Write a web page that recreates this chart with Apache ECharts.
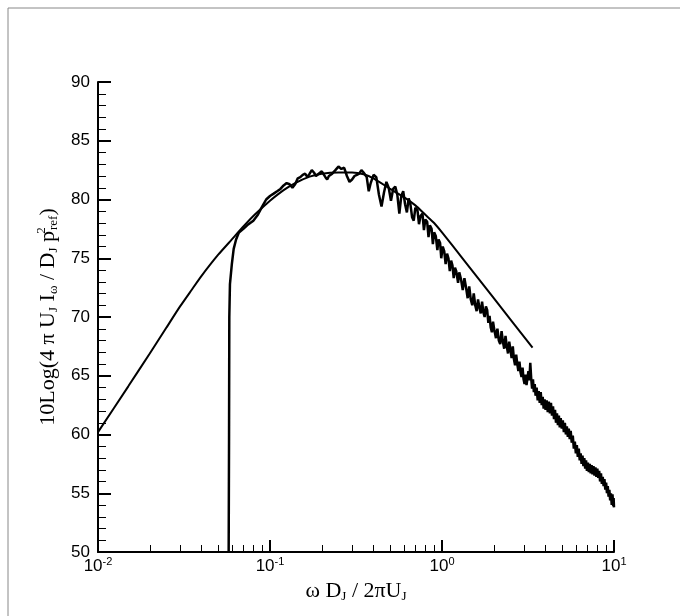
<!DOCTYPE html>
<html>
<head>
<meta charset="utf-8">
<script src="https://cdn.jsdelivr.net/npm/echarts@6/dist/echarts.min.js"></script>
<style>
html, body { margin: 0; padding: 0; background: #fff; }
#chart { width: 687px; height: 616px; }
</style>
</head>
<body>
<div id="chart"></div>
<script>
// model spectrum (smooth curve), [omega D / 2 pi U, dB]
var modelCurve = [
  [0.01, 60.2], [0.015, 64.1], [0.02, 66.9], [0.025, 69.1], [0.03, 70.9],
  [0.035, 72.3], [0.04, 73.5], [0.05, 75.3], [0.06, 76.6], [0.07, 77.7],
  [0.08, 78.6], [0.09, 79.3], [0.1, 79.9], [0.12, 80.8], [0.14, 81.4],
  [0.17, 81.95], [0.2, 82.2], [0.25, 82.3], [0.3, 82.3], [0.35, 82.15],
  [0.4, 81.8], [0.5, 80.9], [0.6, 80.2], [0.7, 79.5], [0.8, 78.7],
  [0.9, 78.0], [1.0, 77.2], [1.34, 74.85], [2.0, 71.6], [3.36, 67.4]
];

// measured spectrum (noisy curve)
var measured = [
  [0.0575, 50], [0.0578, 60], [0.058, 70], [0.0585, 72.8], [0.06, 74.5],
  [0.0615, 75.8], [0.0635, 76.6], [0.066, 77.2], [0.07, 77.5], [0.075, 77.9],
  [0.08, 78.2], [0.085, 78.7], [0.09, 79.4], [0.095, 80.0], [0.1, 80.3],
  [0.105, 80.5], [0.11, 80.7], [0.115, 80.9], [0.12, 81.2], [0.125, 81.4],
  [0.13, 81.3], [0.135, 81.0], [0.14, 81.3], [0.145, 81.8], [0.15, 81.9],
  [0.155, 82.1], [0.16, 82.2], [0.165, 81.9], [0.17, 82.2], [0.175, 82.5],
  [0.18, 82.3], [0.185, 82.0], [0.19, 82.1], [0.2, 82.4], [0.205, 82.3],
  [0.21, 81.9], [0.215, 81.7], [0.22, 82.0], [0.23, 82.2], [0.24, 82.5],
  [0.25, 82.8], [0.26, 82.6], [0.27, 82.7], [0.28, 82.0], [0.29, 81.5],
  [0.3, 81.7], [0.31, 82.0], [0.32, 82.1], [0.33, 82.2], [0.34, 82.5],
  [0.35, 82.3], [0.365, 81.9], [0.375, 80.7], [0.385, 81.4], [0.4, 82.1],
  [0.415, 81.9], [0.43, 80.4], [0.445, 79.4], [0.46, 80.6], [0.475, 81.5],
  [0.49, 81.0], [0.505, 79.9], [0.52, 80.9], [0.535, 81.1], [0.55, 80.4],
  [0.565, 78.8], [0.58, 80.3], [0.595, 80.7], [0.61, 79.6], [0.625, 78.9],
  [0.64, 80.1], [0.655, 79.6], [0.67, 78.5], [0.685, 78.2], [0.7, 79.3],
  [0.72, 79.1], [0.735, 77.9], [0.75, 78.6], [0.77, 78.8], [0.785, 77.4],
  [0.8, 78.3], [0.82, 78.1], [0.835, 76.8], [0.85, 77.8], [0.87, 77.5],
  [0.885, 76.2], [0.9, 77.2], [0.92, 76.9], [0.94, 75.7], [0.955, 76.6],
  [0.975, 76.3], [0.99, 75.0], [1.01, 76.0], [1.03, 75.6], [1.05, 74.5],
  [1.07, 75.4], [1.09, 75.0], [1.11, 73.9], [1.13, 74.8], [1.15, 74.4],
  [1.17, 73.3], [1.19, 74.2], [1.21, 73.9], [1.24, 72.9], [1.26, 73.8],
  [1.29, 73.2], [1.32, 72.3], [1.35, 73.3], [1.38, 72.5], [1.41, 71.6],
  [1.44, 72.6], [1.47, 71.5], [1.5, 71.0], [1.53, 72.0], [1.56, 71.0],
  [1.59, 70.5], [1.62, 71.5], [1.65, 70.8], [1.68, 70.3], [1.71, 71.3],
  [1.74, 70.4], [1.77, 70.0], [1.8, 70.9], [1.83, 70.6], [1.86, 69.5],
  [1.89, 70.1], [1.92, 69.1], [1.95, 68.7], [1.98, 69.6], [2.02, 68.8],
  [2.06, 68.2], [2.1, 69.0], [2.14, 68.0], [2.18, 67.7], [2.22, 68.8],
  [2.26, 67.9], [2.3, 67.3], [2.34, 68.4], [2.38, 67.5], [2.42, 66.9],
  [2.46, 67.9], [2.5, 67.2], [2.54, 66.5], [2.58, 67.5], [2.62, 66.4],
  [2.66, 65.9], [2.7, 66.8], [2.74, 66.0], [2.78, 65.4], [2.82, 66.2],
  [2.86, 65.3], [2.9, 64.9], [2.94, 65.7], [2.98, 64.7], [3.02, 64.3],
  [3.06, 65.1], [3.1, 64.2], [3.14, 64.8], [3.18, 65.4], [3.22, 64.6],
  [3.26, 66.1], [3.3, 64.8], [3.34, 63.9], [3.38, 64.7], [3.42, 63.6],
  [3.46, 64.3], [3.5, 63.3], [3.55, 64.0], [3.6, 62.9], [3.65, 63.7],
  [3.7, 62.7], [3.75, 63.6], [3.8, 62.5], [3.85, 63.2], [3.9, 62.2],
  [3.95, 63.0], [4.0, 62.1], [4.06, 62.9], [4.12, 61.9], [4.18, 62.8],
  [4.24, 61.8], [4.3, 62.7], [4.36, 61.6], [4.42, 62.4], [4.48, 61.3],
  [4.54, 62.1], [4.6, 61.0], [4.66, 61.8], [4.72, 60.8], [4.78, 61.6],
  [4.84, 60.6], [4.9, 61.4], [4.97, 60.5], [5.04, 61.2], [5.11, 60.2],
  [5.18, 61.0], [5.25, 60.0], [5.32, 60.7], [5.39, 59.8], [5.46, 60.5],
  [5.53, 59.6], [5.6, 60.3], [5.68, 59.3], [5.76, 59.9], [5.84, 58.8],
  [5.92, 59.4], [6.0, 58.4], [6.08, 59.1], [6.16, 58.1], [6.24, 58.8],
  [6.32, 57.8], [6.4, 58.4], [6.48, 57.5], [6.56, 58.2], [6.64, 57.3],
  [6.72, 58.0], [6.8, 57.1], [6.88, 57.8], [6.96, 56.9], [7.05, 57.6],
  [7.14, 56.8], [7.23, 57.5], [7.32, 56.7], [7.41, 57.4], [7.5, 56.6],
  [7.6, 57.3], [7.7, 56.5], [7.8, 57.2], [7.9, 56.4], [8.0, 57.1],
  [8.1, 56.3], [8.2, 56.9], [8.3, 56.0], [8.4, 56.7], [8.5, 55.8],
  [8.6, 56.4], [8.7, 55.6], [8.8, 56.2], [8.9, 55.3], [9.0, 55.9],
  [9.1, 55.0], [9.2, 55.6], [9.3, 54.7], [9.4, 55.3], [9.5, 54.4],
  [9.6, 55.0], [9.7, 54.0], [9.8, 54.9], [9.9, 53.9], [9.95, 54.6],
  [10.0, 53.8]
];

// minor tick spots on the log axis, written as log10 values
var minorTicks = [
  -1.699, -1.523, -1.398, -1.301, -1.222, -1.155, -1.097, -1.046,
  -0.699, -0.523, -0.398, -0.301, -0.222, -0.155, -0.097, -0.046,
  0.301, 0.477, 0.602, 0.699, 0.778, 0.845, 0.903, 0.954
];

var chart = echarts.init(document.getElementById('chart'));

var sansFont = 'Liberation Sans, Arial, sans-serif';
var serifFont = 'Liberation Serif, Times New Roman, serif';

var nameRich = {
  n: { fontSize: 22, fontFamily: serifFont, color: '#000' },
  sub: { fontSize: 13, fontFamily: serifFont, color: '#000', padding: [11, 0, 0, 0] },
  sup: { fontSize: 13, fontFamily: serifFont, color: '#000', padding: [0, 0, 13, 0], width: 1 }
};

var option = {
  animation: false,
  backgroundColor: '#fff',
  grid: {
    left: 98, right: 73, top: 82, bottom: 64,
    outerBoundsMode: 'none'
  },
  xAxis: [{
    type: 'log',
    logBase: 10,
    min: 0.01,
    max: 10,
    name: '{n|\u03c9 D}{sub|J}{n| / 2\u03c0U}{sub|J}',
    nameLocation: 'middle',
    nameGap: 20,
    nameTextStyle: { color: '#000', rich: nameRich },
    axisLine: { onZero: false, lineStyle: { color: '#000', width: 2 } },
    axisTick: { inside: true, length: 12, lineStyle: { color: '#000', width: 2 } },
    splitLine: { show: false },
    axisLabel: {
      margin: 4,
      color: '#000',
      formatter: function (v) {
        var e = Math.round(Math.log(v) / Math.LN10);
        return '{b|10}{s|' + e + '}';
      },
      rich: {
        b: { fontSize: 17, fontFamily: sansFont, color: '#000' },
        s: { fontSize: 11, fontFamily: sansFont, color: '#000', padding: [0, 0, 10, 0] }
      }
    }
  }, {
    // only here to draw the 2..9 minor ticks
    type: 'value',
    min: -2,
    max: 1,
    position: 'bottom',
    axisLine: { show: false, onZero: false },
    axisLabel: { show: false },
    splitLine: { show: false },
    axisTick: {
      inside: true, length: 7,
      customValues: minorTicks,
      lineStyle: { color: '#000', width: 1 }
    }
  }],
  yAxis: {
    type: 'value',
    min: 50,
    max: 90,
    interval: 5,
    name: '{n|10Log(4 \u03c0 U}{sub|J}{n| I}{sub|\u03c9}{n| / D}{sub|J}{n| p}{sup|2}{sub|ref}{n|)}',
    nameLocation: 'middle',
    nameRotate: 90,
    nameGap: 34,
    nameTextStyle: { color: '#000', rich: nameRich },
    axisLine: { show: true, onZero: false, lineStyle: { color: '#000', width: 2 } },
    axisTick: { show: true, inside: true, length: 13, lineStyle: { color: '#000', width: 2 } },
    minorTick: { show: true, splitNumber: 5, length: 8, lineStyle: { color: '#000', width: 1 } },
    splitLine: { show: false },
    axisLabel: { color: '#000', fontSize: 17, fontFamily: sansFont, margin: 8 }
  },
  graphic: [{
    type: 'polyline',
    shape: { points: [[8, 616], [8, 8], [680, 8]] },
    style: { stroke: '#888', lineWidth: 1, fill: null }
  }],
  series: [{
    name: 'model',
    type: 'line',
    data: modelCurve,
    showSymbol: false,
    smooth: 0.2,
    lineStyle: { color: '#000', width: 2 }
  }, {
    name: 'measured',
    type: 'line',
    data: measured,
    showSymbol: false,
    lineStyle: { color: '#000', width: 2.5 }
  }]
};

chart.setOption(option);
</script>
</body>
</html>
